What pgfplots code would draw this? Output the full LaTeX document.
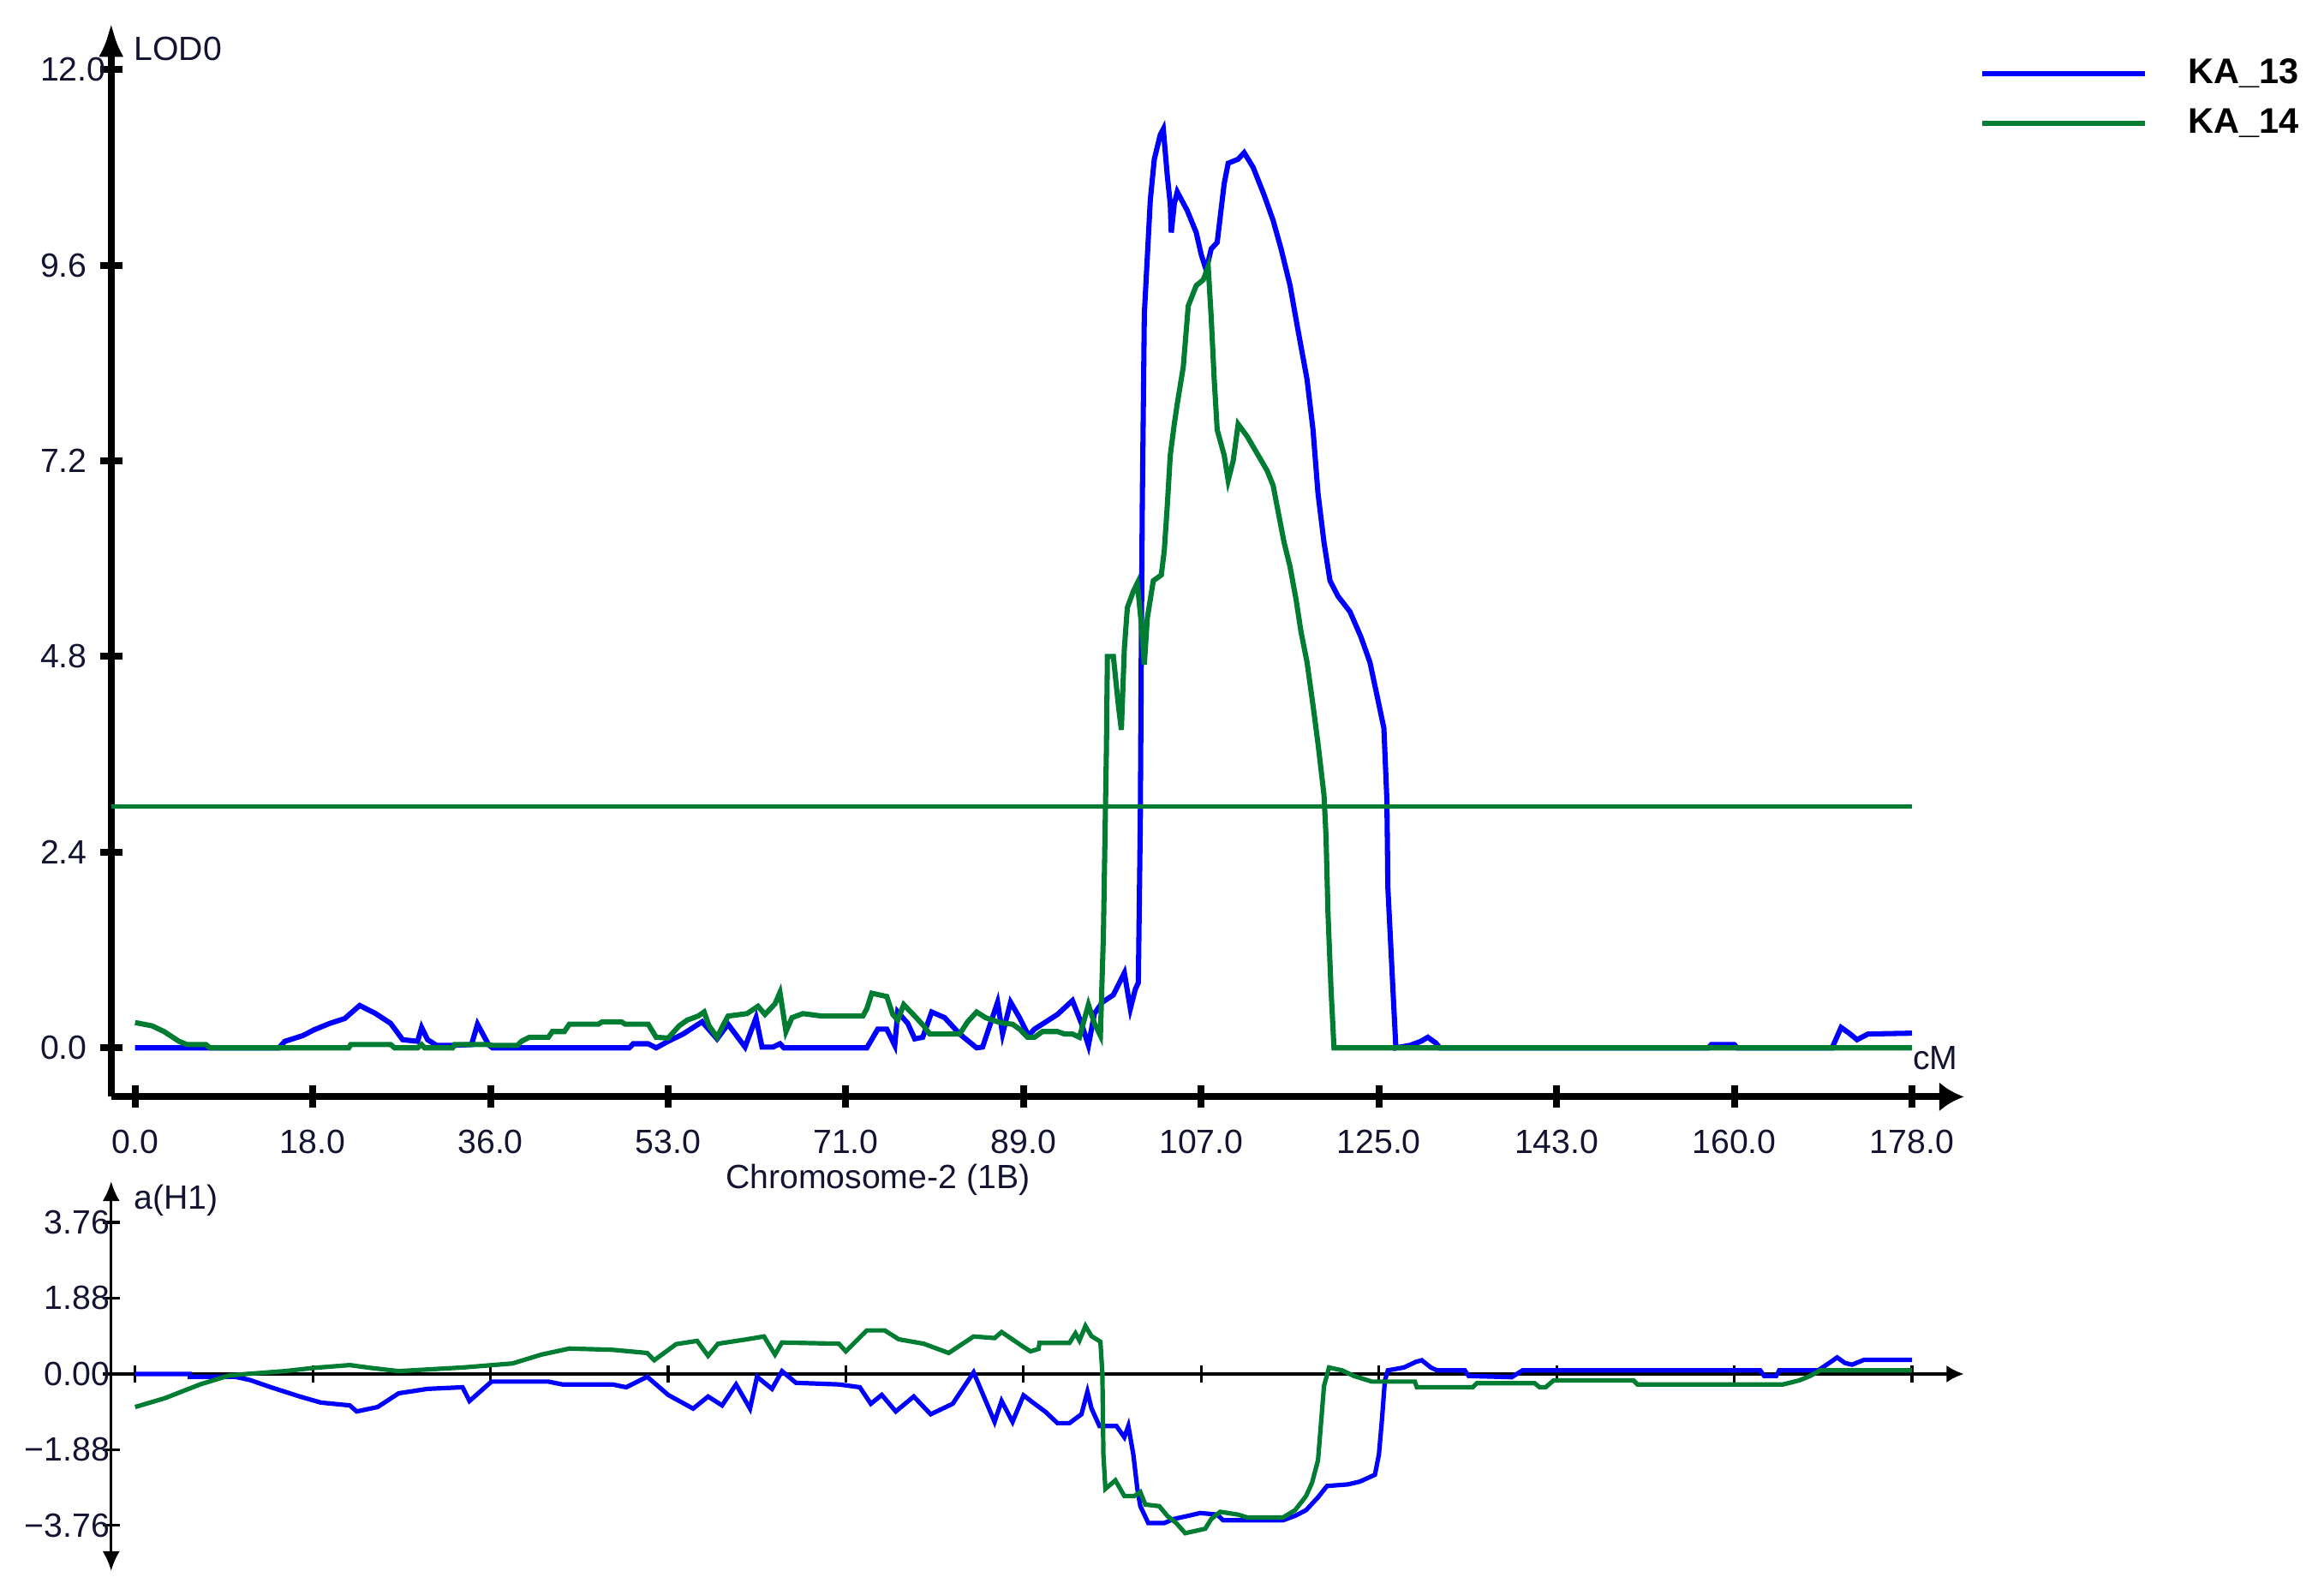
\documentclass[border=0pt]{standalone}
\usepackage{fontspec}
\setmainfont{Liberation Sans}
\usepackage{pgfplots}
\pgfplotsset{compat=1.18}
\usetikzlibrary{arrows.meta}
\definecolor{qblue}{RGB}{0,0,255}
\definecolor{qgreen}{RGB}{0,125,50}
\definecolor{qtext}{RGB}{20,20,50}
\newcommand{\tfont}{\fontsize{6.8}{8}\selectfont}
\begin{document}
\begin{tikzpicture}
\useasboundingbox (0,0) rectangle (470.4pt,321.6pt);
% ---------------- upper panel: LOD ----------------
\begin{axis}[
  at={(22.5pt,99.6pt)}, anchor=south west,
  width=375pt, height=217.5pt, scale only axis,
  xmin=-2.4, xmax=183.2, ymin=-0.6, ymax=12.58,
  axis x line=bottom, axis y line=left,
  axis line style={line width=1.4pt, black},
  x axis line style={-{Latex[length=5pt,width=6pt]}},
  y axis line style={-{Latex[length=7pt,width=5pt]}},
  xtick={0,17.8,35.6,53.4,71.2,89,106.8,124.6,142.4,160.2,178},
  xticklabels={0.0,18.0,36.0,53.0,71.0,89.0,107.0,125.0,143.0,160.0,178.0},
  ytick={0,2.4,4.8,7.2,9.6,12},
  yticklabels={0.0,2.4,4.8,7.2,9.6,12.0},
  tick align=center, major tick length=4.5pt,
  tick style={line width=1.4pt, black},
  ticklabel style={font=\tfont, text=qtext},
  xticklabel style={anchor=north, yshift=-1pt},
  yticklabel style={anchor=west, xshift=-15.6pt},
  clip=false,
  legend style={at={(1.008,0.929)}, anchor=west, draw=none, fill=none,
    inner sep=0pt, font=\bfseries\fontsize{7.2}{9}\selectfont,
    nodes={text height=5.5pt, text depth=1.5pt, inner sep=1.45pt},
    /tikz/every odd column/.append style={column sep=6.7pt}},
  legend cell align=left,
  legend image code/.code={\draw[#1] (0pt,0pt) -- (33pt,0pt);},
]
\addplot[qblue, line width=1.05pt] coordinates {
(0,0) (5.5,0) (14.4,0) (15,0.08) (16.8,0.15) (17.9,0.22) (19.5,0.30) (21,0.36)
(22.5,0.52) (24.1,0.42) (25.6,0.30) (26.8,0.10) (28.3,0.08) (28.7,0.25) (29.3,0.10)
(30.2,0.03) (31.8,0.03) (33.7,0.04) (34.3,0.29) (35.4,0.04) (35.8,0) (49.5,0)
(49.9,0.05) (51.4,0.05) (52.2,0) (53.4,0.08) (54.9,0.17) (56.8,0.32) (58.3,0.11)
(59.4,0.29) (61.1,0.01) (62.2,0.37) (62.8,0.01) (63.9,0.01) (64.6,0.05) (65,0)
(73.3,0) (74.4,0.23) (75.3,0.23) (76.1,0.03) (76.4,0.44) (77.4,0.30) (78.1,0.11)
(78.9,0.13) (79.8,0.44) (81.1,0.37) (82.6,0.17) (84.3,0) (84.9,0.01) (86.4,0.56)
(86.9,0.17) (87.7,0.56) (88.6,0.37) (89.5,0.15) (90.1,0.23) (92.4,0.41) (93.9,0.58)
(94.8,0.30) (95.5,0.03) (96.1,0.42) (96.9,0.56) (98,0.65) (99.1,0.92) (99.7,0.48)
(100.2,0.72) (100.5,0.8) (100.7,2.8) (100.8,4.96) (100.9,6.7) (101.1,9.0) (101.4,9.7)
(101.7,10.4) (102.1,10.9) (102.7,11.2) (103,11.27) (103.4,10.7) (103.7,10.35)
(103.8,10.0) (104.1,10.35) (104.4,10.5) (105.4,10.27) (106.3,10.0) (106.8,9.73)
(107.3,9.54) (107.8,9.8) (108.4,9.88) (109.1,10.6) (109.5,10.85) (110.5,10.9)
(111.1,10.98) (112,10.8) (113.1,10.46) (114,10.15) (114.8,9.8) (115.7,9.35)
(116.5,8.8) (117.4,8.2) (118,7.58) (118.5,6.8) (119.1,6.2) (119.7,5.73) (120.5,5.54)
(121.7,5.35) (122.8,5.04) (123.7,4.73) (124.5,4.27) (125.1,3.92) (125.4,3.04)
(125.5,1.96) (126,0.73) (126.3,0) (127.7,0.03) (128.8,0.08) (129.5,0.13) (130.3,0.06)
(130.7,0) (157.6,0) (157.9,0.04) (160.2,0.04) (160.5,0) (170,0) (170.9,0.25)
(171.7,0.18) (172.5,0.10) (173.6,0.17) (178,0.18)
};
\addlegendentry{KA\_13}
\addplot[qgreen, line width=1.05pt] coordinates {
(0,0.31) (1.7,0.27) (2.9,0.20) (4.4,0.08) (5.2,0.04) (7.1,0.04) (7.5,0) (21.4,0)
(21.6,0.04) (25.6,0.04) (26,0) (28.3,0) (28.7,0.04) (29,0) (31.8,0) (32,0.04)
(35.4,0.04) (35.8,0.03) (38.3,0.03) (38.7,0.08) (39.5,0.13) (41.4,0.13) (41.8,0.20)
(43,0.20) (43.5,0.29) (46.4,0.29) (46.8,0.32) (48.7,0.32) (49.1,0.29) (51.4,0.29)
(52.2,0.13) (53.4,0.12) (54.5,0.27) (55.3,0.34) (56.4,0.39) (57,0.44) (57.5,0.27)
(58.3,0.13) (59,0.30) (59.4,0.39) (61.3,0.42) (62.4,0.51) (63.1,0.41) (64.1,0.54)
(64.6,0.68) (65.2,0.20) (65.8,0.37) (66.9,0.42) (68.8,0.39) (72.9,0.39) (73.3,0.48)
(73.8,0.67) (75.3,0.63) (75.9,0.41) (76.4,0.34) (77,0.53) (78.1,0.39) (79,0.27)
(79.6,0.17) (82.6,0.17) (83.4,0.32) (84.3,0.44) (85.2,0.37) (86.4,0.32) (87.1,0.30)
(87.9,0.29) (88.6,0.23) (89.4,0.13) (90.1,0.13) (90.9,0.20) (92.4,0.20) (93.1,0.17)
(93.9,0.17) (94.6,0.13) (95.5,0.53) (96.1,0.30) (96.7,0.15) (97,1.38) (97.3,3.65)
(97.4,4.8) (98,4.8) (98.5,4.2) (98.8,3.9) (99.1,4.9) (99.4,5.4) (100,5.6) (100.4,5.7)
(100.8,5.2) (101.1,4.7) (101.4,5.27) (102,5.73) (102.8,5.8) (103.1,6.1) (103.4,6.65)
(103.7,7.27) (104.1,7.65) (104.4,7.9) (105,8.35) (105.3,8.8) (105.5,9.1) (106.3,9.35)
(107,9.42) (107.5,9.58) (107.8,8.96) (108.1,8.2) (108.4,7.58) (109.1,7.27)
(109.5,6.96) (110,7.2) (110.5,7.65) (111.4,7.5) (112.5,7.27) (113.4,7.08) (114,6.9)
(114.5,6.58) (115.1,6.2) (115.7,5.9) (116.3,5.5) (116.8,5.1) (117.4,4.73) (118,4.2)
(118.5,3.73) (119.1,3.1) (119.3,2.6) (119.5,1.65) (119.8,0.73) (120.1,0) (178,0)
};
\addlegendentry{KA\_14}
\addplot[qgreen, line width=0.75pt, forget plot] coordinates {(-2.4,2.96) (178,2.96)};
\node[anchor=west, inner sep=0pt, font=\tfont, text=qtext] at (axis cs:-0.2,12.25) {LOD0};
\node[anchor=west, inner sep=0pt, font=\tfont, text=qtext] at (axis cs:178,-0.13) {cM};
\node[inner sep=0pt, font=\tfont, text=qtext] at (axis cs:74.4,-1.62) {Chromosome-2 (1B)};
\end{axis}
% ---------------- lower panel: additive effect ----------------
\begin{axis}[
  at={(22.5pt,3.6pt)}, anchor=south west,
  width=375pt, height=78.9pt, scale only axis,
  xmin=-2.4, xmax=183.2, ymin=-4.89, ymax=4.78,
  axis x line=middle, axis y line=left,
  axis line style={line width=0.55pt, black},
  x axis line style={-{Latex[length=3.5pt,width=3.5pt]}},
  y axis line style={{Latex[length=4pt,width=3.5pt]}-{Latex[length=4pt,width=3.5pt]}},
  xtick={0,17.8,35.6,53.4,71.2,89,106.8,124.6,142.4,160.2,178},
  xticklabels={},
  ytick={-3.76,-1.88,0,1.88,3.76},
  yticklabels={\llap{−}3.76,\llap{−}1.88,0.00,1.88,3.76},
  tick align=center, major tick length=3.5pt,
  tick style={line width=0.55pt, black},
  ticklabel style={font=\tfont, text=qtext},
  yticklabel style={anchor=west, xshift=-15.3pt},
  clip=false,
]
\addplot[qblue, line width=0.9pt] coordinates {
(0,0) (5.5,0) (5.5,-0.07) (10,-0.07) (11.5,-0.15) (13.6,-0.33) (16.5,-0.56)
(18.6,-0.71) (21.5,-0.78) (22.2,-0.93) (24.3,-0.82) (26.4,-0.48) (29.3,-0.37)
(32.8,-0.33) (33.5,-0.67) (35.7,-0.19) (41.4,-0.19) (42.8,-0.26) (47.8,-0.26)
(49.2,-0.33) (51.3,-0.07) (53.4,-0.52) (55.9,-0.86) (57.4,-0.56) (58.8,-0.78)
(60.2,-0.26) (61.6,-0.86) (62.3,-0.07) (63.8,-0.37) (64.8,0.07) (66.2,-0.22)
(70.5,-0.26) (72.6,-0.33) (73.7,-0.74) (74.8,-0.52) (76.2,-0.93) (78,-0.56)
(79.7,-1.0) (81.9,-0.74) (84,0.04) (86.1,-1.19) (86.8,-0.67) (87.9,-1.19) (89,-0.53)
(90,-0.72) (91.2,-0.94) (92.4,-1.22) (93.6,-1.22) (94.8,-1.0) (95.4,-0.44)
(95.8,-0.85) (96.6,-1.29) (98.3,-1.29) (99.1,-1.57) (99.5,-1.29) (100,-2.0)
(100.4,-2.85) (100.7,-3.28) (101.5,-3.7) (103.1,-3.7) (104,-3.6) (105.5,-3.52)
(106.7,-3.45) (108.4,-3.49) (109,-3.63) (115,-3.63) (116.2,-3.52) (117.3,-3.38)
(118.5,-3.06) (119.4,-2.78) (121.5,-2.74) (122.7,-2.67) (124.2,-2.5) (124.6,-2.0)
(124.9,-1.15) (125.2,-0.16) (125.5,0.09) (127.1,0.16) (128.3,0.3) (128.9,0.34)
(129.8,0.16) (130.4,0.09) (133.2,0.09) (133.6,-0.05) (137.9,-0.08) (139,0.09)
(162.8,0.09) (163.2,-0.05) (164.4,-0.05) (164.7,0.09) (168.6,0.09) (169.7,0.27)
(170.5,0.41) (171.3,0.27) (172,0.23) (173.2,0.35) (178,0.35)
};
\addplot[qgreen, line width=0.9pt] coordinates {
(0,-0.82) (3,-0.6) (6.5,-0.26) (9.4,-0.04) (11.2,0) (15,0.07) (17.9,0.15) (21.5,0.22)
(23.6,0.15) (26.4,0.07) (32.8,0.16) (37.8,0.26) (40.7,0.48) (43.5,0.63) (47.8,0.60)
(51.3,0.52) (52,0.34) (54.2,0.74) (56.3,0.82) (57.4,0.45) (58.4,0.75) (61.3,0.86)
(63,0.93) (64.1,0.48) (64.8,0.78) (70.5,0.75) (71.2,0.56) (73.3,1.08) (75.1,1.08)
(76.5,0.86) (79,0.75) (81.5,0.52) (84,0.93) (86.1,0.89) (86.8,1.04) (89,0.67)
(89.7,0.56) (90.5,0.62) (90.6,0.77) (93.6,0.77) (94.2,1.01) (94.6,0.83) (95.2,1.19)
(95.8,0.94) (96.7,0.80) (96.9,0) (97,-2.0) (97.2,-2.85) (98.2,-2.64) (99.1,-3.03)
(100.1,-3.03) (100.7,-2.93) (101.2,-3.24) (102.6,-3.28) (103.4,-3.52) (104.3,-3.7)
(105.2,-3.95) (107.2,-3.84) (107.8,-3.6) (108.7,-3.42) (110.5,-3.49) (111.4,-3.56)
(115,-3.56) (116.2,-3.38) (117.3,-3.03) (117.9,-2.7) (118.5,-2.14) (118.8,-1.22)
(119.1,-0.3) (119.6,0.16) (120.9,0.09) (122.1,-0.05) (123.9,-0.19) (128.2,-0.19)
(128.4,-0.33) (134,-0.33) (134.4,-0.23) (140.2,-0.23) (140.7,-0.33) (141.3,-0.33)
(142.1,-0.16) (150.1,-0.16) (150.5,-0.26) (165.1,-0.26) (166.7,-0.16) (167.8,-0.05)
(168.8,0.09) (178,0.09)
};
\node[anchor=west, inner sep=0pt, font=\tfont, text=qtext] at (axis cs:-0.2,4.3) {a(H1)};
\end{axis}
\end{tikzpicture}
\end{document}
